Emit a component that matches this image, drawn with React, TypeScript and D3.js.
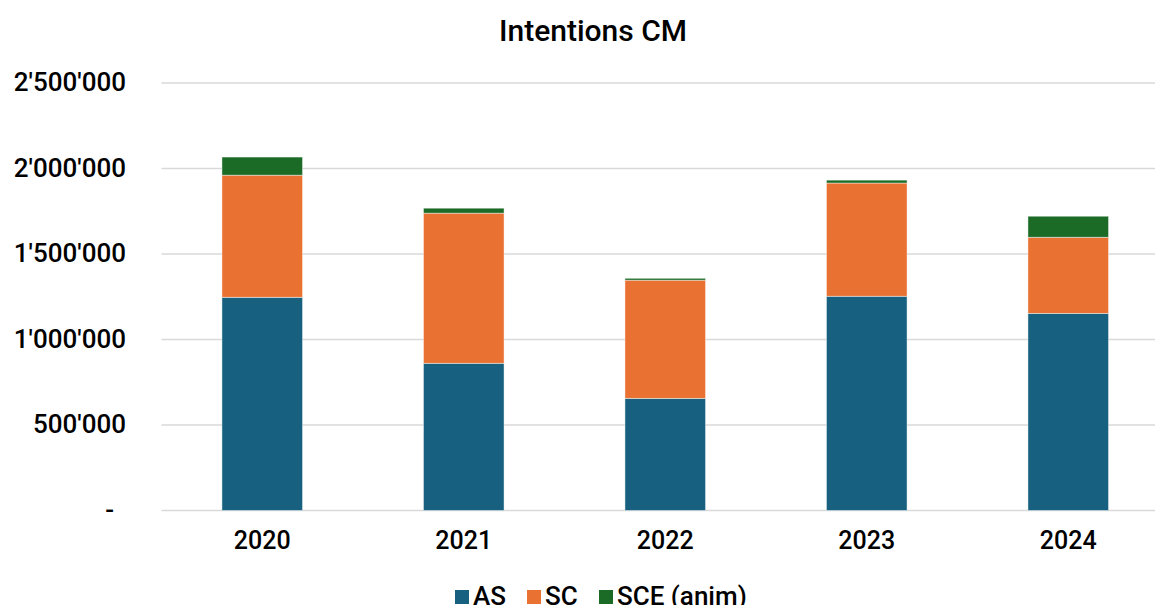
import * as d3 from 'd3';
import React, { useEffect, useRef } from 'react';

// Chart data
const years = ['2020', '2021', '2022', '2023', '2024'];
const asValues = [1247000, 861000, 656000, 1253000, 1153000];
const scValues = [714000, 878000, 691000, 662000, 445000];
const sceValues = [106000, 29000, 11000, 17000, 123000];
const seriesNames = ['AS', 'SC', 'SCE (anim)'];
const seriesKeys = ['as', 'sc', 'sce'];
const yTicks = [0, 500000, 1000000, 1500000, 2000000, 2500000];

const colors = ['#17607f', '#e97132', '#1b6b27'];
const FONT = 'Roboto, "Noto Sans", sans-serif';

const fmt = (v: number) =>
  v === 0 ? '-' : d3.format(',')(v).replace(/,/g, "'");

const App: React.FC = () => {
  const ref = useRef<SVGSVGElement>(null);

  useEffect(() => {
    if (!ref.current) return;
    const svg = d3.select(ref.current);
    svg.selectAll('*').remove();

    const width = 1155;

    const rows = years.map((y, i) => ({
      year: y,
      as: asValues[i],
      sc: scValues[i],
      sce: sceValues[i],
    }));

    const x = d3.scaleBand()
      .domain(years)
      .range([161.5, 1169])
      .paddingInner(0.6)
      .paddingOuter(0.3);

    const y = d3.scaleLinear()
      .domain([0, 2500000])
      .range([510.5, 83]);

    // Title
    svg.append('text')
      .attr('x', 593)
      .attr('y', 41)
      .attr('text-anchor', 'middle')
      .style('font', `500 30px ${FONT}`)
      .attr('fill', '#000')
      .text('Intentions CM');

    // Gridlines
    svg.append('g')
      .selectAll('line')
      .data(yTicks)
      .enter().append('line')
      .attr('x1', 161.5)
      .attr('x2', width)
      .attr('y1', d => y(d))
      .attr('y2', d => y(d))
      .attr('stroke', '#d9d9d9')
      .attr('stroke-width', 1.5);

    // Y labels
    svg.append('g')
      .selectAll('text')
      .data(yTicks)
      .enter().append('text')
      .attr('x', d => (d === 0 ? 114 : 126))
      .attr('y', d => y(d) + 8)
      .attr('text-anchor', 'end')
      .style('font', `500 26px ${FONT}`)
      .attr('fill', '#000')
      .text(d => fmt(d));

    // Stacked bars
    const stack = d3.stack<any>().keys(seriesKeys);
    const layers = stack(rows);

    svg.append('g')
      .selectAll('g')
      .data(layers)
      .enter().append('g')
      .attr('fill', (_, i) => colors[i])
      .selectAll('rect')
      .data(d => d)
      .enter().append('rect')
      .attr('x', d => x(d.data.year) as number)
      .attr('y', d => y(d[1]))
      .attr('height', d => y(d[0]) - y(d[1]))
      .attr('width', x.bandwidth())
      .attr('stroke', '#fff')
      .attr('stroke-opacity', 0.6)
      .attr('stroke-width', 0.75);

    // X labels
    svg.append('g')
      .selectAll('text')
      .data(years)
      .enter().append('text')
      .attr('x', d => (x(d) as number) + x.bandwidth() / 2)
      .attr('y', 549)
      .attr('text-anchor', 'middle')
      .style('font', `500 25px ${FONT}`)
      .attr('fill', '#000')
      .text(d => d);

    // Legend
    const legendX = [455, 527, 599];
    const legend = svg.append('g');
    seriesNames.forEach((name, i) => {
      legend.append('rect')
        .attr('x', legendX[i])
        .attr('y', 590)
        .attr('width', 14)
        .attr('height', 14)
        .attr('fill', colors[i]);
      legend.append('text')
        .attr('x', legendX[i] + 18)
        .attr('y', 605)
        .style('font', `500 26px ${FONT}`)
        .attr('fill', '#000')
        .text(name);
    });
  }, []);

  return (
    <svg
      ref={ref}
      width={1155}
      height={605}
      style={{ position: 'absolute', left: 0, top: 0, background: '#fff' }}
    />
  );
};

export default App;
